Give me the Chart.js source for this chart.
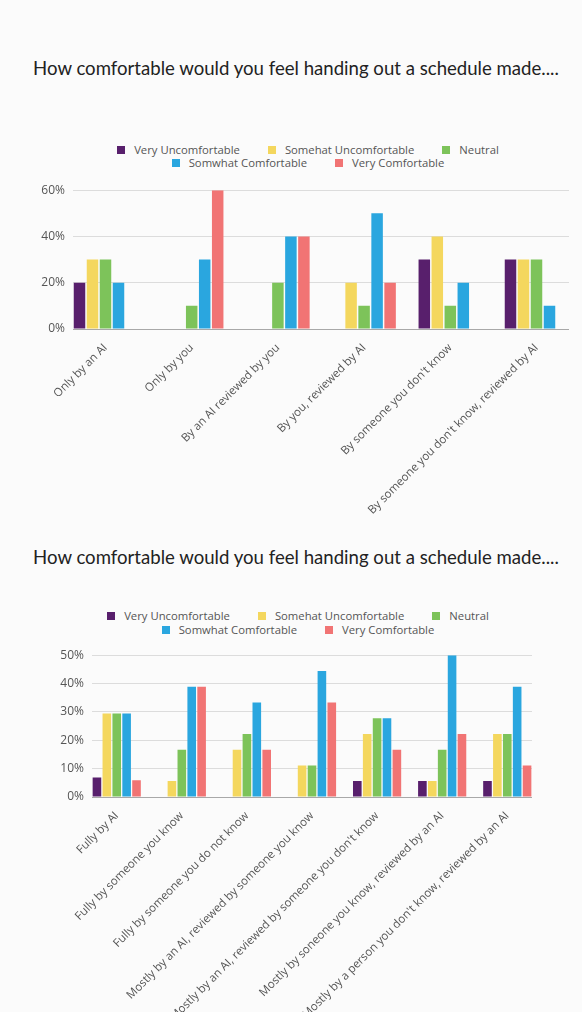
<!DOCTYPE html>
<html>
<head>
<meta charset="utf-8">
<script src="https://cdn.jsdelivr.net/npm/chart.js@4.4.0/dist/chart.umd.min.js"></script>
<style>
  body{margin:0;background:#fbfbfb;width:582px;height:1012px;overflow:hidden;position:relative;font-family:"Open Sans",sans-serif}
  .title{position:absolute;left:5px;width:582px;text-align:center;font-family:Lato,sans-serif;font-size:18.6px;line-height:24px;color:#222;white-space:nowrap}
  .legend{position:absolute;width:582px;font-size:11.3px;color:#555}
  .row{display:flex;justify-content:center;gap:28px;white-space:nowrap}
  .item{display:flex;align-items:center}
  .box{width:8px;height:8px;margin-right:9px}
  .wrap{position:absolute;left:0;width:582px}
</style>
</head>
<body>
<div class="title" style="top:56px">How comfortable would you feel handing out a schedule made....</div>
<div class="legend" id="legend1" style="left:17px;top:144px"></div>
<div class="wrap" style="top:175px;height:350px"><canvas id="chart1"></canvas></div>

<div class="title" style="top:545px">How comfortable would you feel handing out a schedule made....</div>
<div class="legend" id="legend2" style="left:7px;top:609px"></div>
<div class="wrap" style="top:640px;height:372px"><canvas id="chart2"></canvas></div>

<script>
// series names + colours (shared by both charts)
const SERIES = ['Very Uncomfortable','Somehat Uncomfortable','Neutral','Somwhat Comfortable','Very Comfortable'];
const COLORS = ['#581f6c','#f4d75e','#7dc35a','#2aa6df','#f17474'];

// chart 1
const LABELS_1 = ['Only by an AI','Only by you','By an AI reviewed by you','By you, reviewed by AI',
  "By someone you don't know","By someone you don't know, reviewed by AI"];
const VU_1 = [20, 0, 0, 0, 30, 30];
const SU_1 = [30, 0, 0, 20, 40, 30];
const N_1  = [30, 10, 20, 10, 10, 30];
const SC_1 = [20, 30, 40, 50, 20, 10];
const VC_1 = [0, 60, 40, 20, 0, 0];
const TICKS_1 = [0, 20, 40, 60];

// chart 2
const LABELS_2 = ['Fully by AI','Fully by someone you know','Fully by someone you do not know',
  'Mostly by an AI, reviewed by someone you know',"Mostly by an AI, reviewed by someone you don't know",
  'Mostly by soneone you know, reviewed by an AI',"Mostly by a person you don't know, reviewed by an AI"];
const VU_2 = [6.9, 0, 0, 0, 5.6, 5.6, 5.6];
const SU_2 = [29.4, 5.6, 16.7, 11.1, 22.2, 5.6, 22.2];
const N_2  = [29.4, 16.7, 22.2, 11.1, 27.8, 16.7, 22.2];
const SC_2 = [29.4, 38.9, 33.3, 44.4, 27.8, 50, 38.9];
const VC_2 = [5.9, 38.9, 16.7, 33.3, 16.7, 22.2, 11.1];
const TICKS_2 = [0, 10, 20, 30, 40, 50];

function buildLegend(id, rowH){
  const el = document.getElementById(id);
  [[0,1,2],[3,4]].forEach(idx=>{
    const row = document.createElement('div');
    row.className = 'row';
    row.style.height = rowH + 'px';
    row.style.lineHeight = rowH + 'px';
    idx.forEach(i=>{
      row.innerHTML += `<span class="item"><span class="box" style="background:${COLORS[i]}"></span>${SERIES[i]}</span>`;
    });
    el.appendChild(row);
  });
}

function makeChart(id, labels, series, ticks, o){
  const g = o.group; // group width as a fraction of category spacing
  new Chart(document.getElementById(id), {
    type: 'bar',
    data: {
      labels,
      datasets: series.map((d,i)=>({label:SERIES[i], data:d, backgroundColor:COLORS[i],
        categoryPercentage:g, barPercentage:o.bar}))
    },
    options: {
      responsive: true, maintainAspectRatio: false, animation: false,
      layout: {padding: {top:o.padTop, right:o.padRight, left:0, bottom:0}},
      plugins: {legend:{display:false}, tooltip:{enabled:false}},
      scales: {
        x: {
          grid: {display:false},
          border: {display:false},
          ticks: {autoSkip:false, minRotation:45, maxRotation:45, padding:4,
            color:'#555', font:{family:'"Open Sans"', size:11.5}},
          // groups touch the plot edges, gaps only between groups
          afterBuildTicks: s => { s._startValue = -g/2; s._valueRange = (labels.length-1) + g; },
          afterFit: s => { s.height = o.xHeight; }
        },
        y: {
          min: ticks[0], max: ticks[ticks.length-1],
          afterBuildTicks: s => { s.ticks = ticks.map(v=>({value:v})); },
          grid: {drawTicks:false, color: c => c.tick && c.tick.value === 0 ? '#a8a8a8' : '#dcdcdc'},
          border: {display:false},
          ticks: {padding:8, color:'#555', font:{family:'"Open Sans"', size:12}, callback: v => v + '%'},
          afterFit: s => { s.width = o.yWidth; }
        }
      }
    }
  });
}

buildLegend('legend1', 12.5);
buildLegend('legend2', 14);
makeChart('chart1', LABELS_1, [VU_1, SU_1, N_1, SC_1, VC_1], TICKS_1,
  {group:0.754, bar:0.885, padTop:12, padRight:13, yWidth:73, xHeight:196});
makeChart('chart2', LABELS_2, [VU_2, SU_2, N_2, SC_2, VC_2], TICKS_2,
  {group:0.76, bar:0.87, padTop:14, padRight:50, yWidth:92, xHeight:215});
</script>
</body>
</html>
